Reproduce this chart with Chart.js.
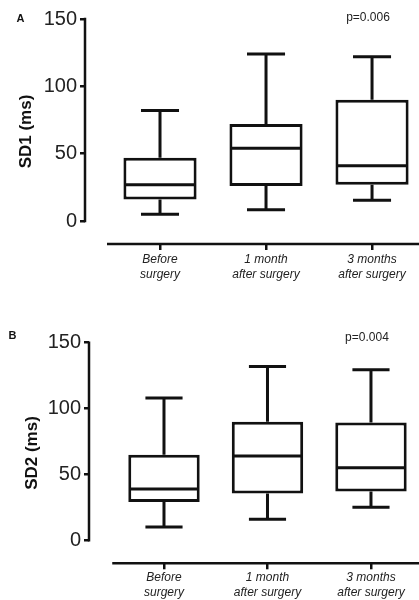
<!DOCTYPE html>
<html>
<head>
<meta charset="utf-8">
<script src="https://cdn.jsdelivr.net/npm/chart.js@4.4.1/dist/chart.umd.min.js"></script>
<style>
  html, body { margin: 0; padding: 0; background: #fff; }
  .panel { position: absolute; left: 0; width: 419px; height: 300px; }
</style>
</head>
<body>
<div class="panel" style="top:0"><canvas id="chartA" width="419" height="300"></canvas></div>
<div class="panel" style="top:300px"><canvas id="chartB" width="419" height="300"></canvas></div>
<script>
// categories and tick labels
var categories = [['Before', 'surgery'], ['1 month', 'after surgery'], ['3 months', 'after surgery']];
var yTicks = [0, 50, 100, 150];
var panelLetters = ['A', 'B'];
var yTitles = ['SD1 (ms)', 'SD2 (ms)'];
var pLabels = ['p=0.006', 'p=0.004'];

// SD1 box plot values (ms)
var sd1Min = [5, 8.5, 15.5];
var sd1Q1 = [16, 26, 27];
var sd1Median = [27, 54, 41];
var sd1Q3 = [47, 72, 90];
var sd1Max = [82, 124, 122];

// SD2 box plot values (ms)
var sd2Min = [10, 16, 25];
var sd2Q1 = [29, 35.5, 37];
var sd2Median = [39, 64, 55];
var sd2Q3 = [65, 90, 89.5];
var sd2Max = [108, 132, 129.5];

var ink = '#111';
var boxFraction = 0.69;

// whiskers, caps, medians and the detached axes, drawn through the scales
var boxParts = {
    id: 'boxParts',
    afterDatasetsDraw: function(chart, args, opts) {
        var ctx = chart.ctx;
        var x = chart.scales.x, y = chart.scales.y;
        var area = chart.chartArea;
        var step = x.getPixelForValue(1) - x.getPixelForValue(0);
        var half = step * boxFraction / 2;
        var capHalf = half * 0.52;

        ctx.save();
        ctx.strokeStyle = ink;
        ctx.lineCap = 'butt';
        ctx.lineWidth = 3;
        for (var i = 0; i < opts.median.length; i++) {
            var cx = x.getPixelForValue(i);
            var yMin = y.getPixelForValue(opts.min[i]);
            var yQ1 = y.getPixelForValue(opts.q1[i]);
            var yMed = y.getPixelForValue(opts.median[i]);
            var yQ3 = y.getPixelForValue(opts.q3[i]);
            var yMax = y.getPixelForValue(opts.max[i]);
            ctx.beginPath();
            ctx.moveTo(cx, yQ3); ctx.lineTo(cx, yMax);
            ctx.moveTo(cx - capHalf, yMax); ctx.lineTo(cx + capHalf, yMax);
            ctx.moveTo(cx, yQ1); ctx.lineTo(cx, yMin);
            ctx.moveTo(cx - capHalf, yMin); ctx.lineTo(cx + capHalf, yMin);
            ctx.moveTo(cx - half + 1.5, yMed); ctx.lineTo(cx + half - 1.5, yMed);
            ctx.stroke();
        }

        // y axis line from 0 to 150, x axis line detached below it
        ctx.lineWidth = 2.5;
        ctx.beginPath();
        ctx.moveTo(area.left, y.getPixelForValue(yTicks[yTicks.length - 1]) - 1.25);
        ctx.lineTo(area.left, y.getPixelForValue(yTicks[0]) + 1.25);
        ctx.moveTo(x.getPixelForValue(-0.5), area.bottom);
        ctx.lineTo(chart.width, area.bottom);
        ctx.stroke();

        // panel letter and p value
        ctx.fillStyle = ink;
        ctx.textAlign = 'center';
        ctx.textBaseline = 'middle';
        ctx.font = 'bold 11px "Liberation Sans", Arial, sans-serif';
        ctx.fillText(opts.letter, opts.letterX, opts.letterY);
        ctx.fillStyle = '#222';
        ctx.font = '12px "Liberation Sans", Arial, sans-serif';
        ctx.fillText(opts.pText, x.getPixelForValue(2) - 4, y.getPixelForValue(150) + opts.pShift);
        ctx.restore();
    }
};

function makeChart(id, idx, stats, xMin, xMax, yMin, axisWidth, axisHeight, titlePad, labelPad, labelLine, topPad) {
    var ctx = document.getElementById(id).getContext('2d');
    return new Chart(ctx, {
        type: 'bar',
        data: {
            datasets: [{
                data: categories.map(function(c, i) { return { x: i, y: [stats.q1[i], stats.q3[i]] }; }),
                backgroundColor: '#fff',
                borderColor: ink,
                borderWidth: 3,
                borderSkipped: false,
                barPercentage: boxFraction,
                categoryPercentage: 1
            }]
        },
        options: {
            responsive: false,
            animation: false,
            devicePixelRatio: 1,
            layout: { padding: { top: topPad, bottom: 0, left: 0, right: 0 } },
            plugins: {
                legend: { display: false },
                tooltip: { enabled: false },
                boxParts: {
                    min: stats.min, q1: stats.q1, median: stats.median, q3: stats.q3, max: stats.max,
                    letter: panelLetters[idx], letterX: stats.letterX, letterY: stats.letterY,
                    pText: pLabels[idx], pShift: stats.pShift
                }
            },
            scales: {
                x: {
                    type: 'linear',
                    min: xMin,
                    max: xMax,
                    offset: false,
                    afterBuildTicks: function(s) { s.ticks = categories.map(function(c, i) { return { value: i }; }); },
                    afterFit: function(s) { s.height = axisHeight; },
                    border: { display: false },
                    grid: { display: true, offset: false, drawOnChartArea: false, drawTicks: true, tickLength: 6, lineWidth: 2.5, color: ink },
                    ticks: {
                        padding: labelPad,
                        color: '#222',
                        font: { family: '"Liberation Sans", Arial, sans-serif', size: 12, style: 'italic', lineHeight: labelLine },
                        callback: function(v) { return categories[Math.round(v)]; }
                    }
                },
                y: {
                    min: yMin,
                    max: 150,
                    afterBuildTicks: function(s) { s.ticks = yTicks.map(function(v) { return { value: v }; }); },
                    afterFit: function(s) { s.width = axisWidth; },
                    border: { display: false },
                    grid: { display: true, drawOnChartArea: false, drawTicks: true, tickLength: 5, lineWidth: 2.5, color: ink },
                    ticks: {
                        padding: 3,
                        color: '#222',
                        font: { family: '"Liberation Sans", Arial, sans-serif', size: 20 }
                    },
                    title: {
                        display: true,
                        text: yTitles[idx],
                        color: ink,
                        padding: { top: titlePad, bottom: 0 },
                        font: { family: '"Liberation Sans", Arial, sans-serif', size: 17, weight: 'bold', lineHeight: 1.2 }
                    }
                }
            }
        },
        plugins: [boxParts]
    });
}

makeChart('chartA', 0,
    { min: sd1Min, q1: sd1Q1, median: sd1Median, q3: sd1Q3, max: sd1Max, letterX: 20.5, letterY: 18.5, pShift: -1 },
    -0.7075, 2.443, -17, 85, 56, 16, 2, 1.25, 19);

makeChart('chartB', 1,
    { min: sd2Min, q1: sd2Q1, median: sd2Median, q3: sd2Q3, max: sd2Max, letterX: 12.5, letterY: 35.5, pShift: -5 },
    -0.7246, 2.464, -17.5, 89, 36.7, 22, 1.5, 1.2, 42.7);
</script>
</body>
</html>
